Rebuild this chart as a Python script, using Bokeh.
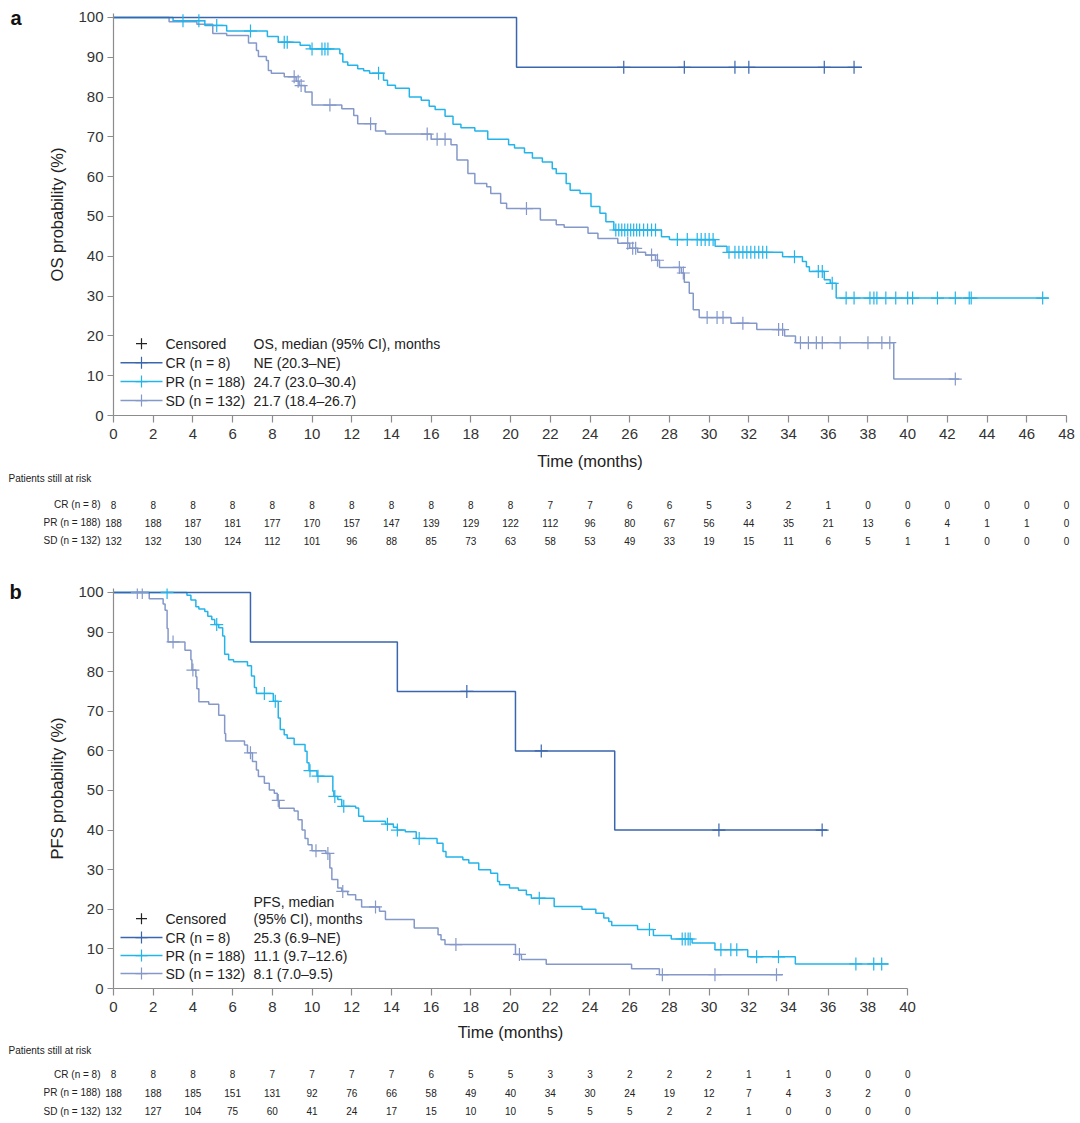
import numpy as np
from bokeh.plotting import figure
from bokeh.models import Range1d, FixedTicker
from bokeh.layouts import column, row
from bokeh.embed import file_html
from bokeh.resources import INLINE
from bokeh.core.properties import value

FONT = "Liberation Sans"
C_CR = "#3a66ad"
C_PR = "#22b4ea"
C_SD = "#8498c9"
TXT = "#222222"
AX = "#8c8c8c"

# ---------------- Panel a: overall survival ----------------
os_cr_t = [0, 20.3, 37.7]
os_cr_s = [100, 87.5, 87.5]
os_cr_cens = [25.7, 28.75, 31.3, 32.0, 35.8, 37.3]

os_pr_t = [0, 3.0, 4.6, 5.7, 7.75, 8.3, 9.4, 9.9, 11.4, 11.55, 11.8, 12.3, 12.6, 12.9,
           13.6, 13.8, 14.2, 14.9, 15.5, 15.9, 16.2, 16.7, 17.1, 17.5, 18.2, 18.85,
           19.9, 20.2, 20.7, 21.1, 21.6, 22.1, 22.3, 22.8, 23.0, 23.5, 24.05, 24.5,
           24.8, 25.2, 27.6, 28.0, 30.3, 30.9, 33.7, 34.7, 34.9, 35.05, 35.8, 36.1,
           36.4, 47.1]
os_pr_s = [100, 99.2, 98.0, 96.6, 95.2, 93.8, 93.0, 92.1, 90.9, 88.8, 88.0, 87.1, 86.6,
           86.0, 84.2, 83.0, 82.2, 80.0, 79.2, 77.7, 76.9, 75.2, 73.2, 72.3, 71.5, 69.4,
           68.0, 67.2, 66.0, 64.7, 63.7, 62.0, 60.8, 58.3, 56.6, 55.8, 52.5, 50.8, 48.7,
           46.6, 44.9, 44.2, 42.5, 41.0, 39.9, 38.7, 37.4, 36.2, 34.1, 33.2, 29.5, 29.5]
os_pr_cens = [3.5, 4.3, 5.2, 6.9, 8.6, 8.75, 10.0, 10.5, 10.65, 10.8, 13.35, 25.3, 25.45,
              25.6, 25.75, 25.9, 26.05, 26.2, 26.35, 26.5, 26.7, 26.9, 27.1, 27.3, 28.4,
              28.9, 29.4, 29.6, 29.8, 30.0, 30.2, 31.0, 31.3, 31.5, 31.7, 31.9, 32.1,
              32.3, 32.5, 32.7, 32.9, 34.3, 35.5, 35.7, 36.2, 36.9, 37.3, 38.1, 38.3,
              38.45, 38.9, 39.4, 40.0, 40.25, 41.5, 42.4, 43.1, 43.2, 46.8]

os_sd_t = [0, 2.8, 4.2, 5.0, 5.7, 6.8, 7.2, 7.3, 7.7, 7.8, 7.95, 8.6, 9.2, 9.35, 9.65,
           10.0, 11.5, 12.1, 12.3, 13.2, 13.7, 16.0, 17.0, 17.3, 17.85, 18.2, 18.8, 19.0,
           19.5, 19.8, 21.5, 22.3, 22.7, 23.9, 24.4, 25.4, 26.0, 26.4, 26.8, 27.3, 27.5,
           28.6, 28.75, 29.0, 29.2, 29.5, 31.1, 32.4, 33.8, 34.35, 39.3, 42.6]
os_sd_s = [100, 98.9, 98.3, 96.0, 95.5, 93.6, 91.7, 90.2, 89.2, 86.7, 86.0, 85.1, 84.0,
           82.9, 81.3, 78.0, 77.1, 75.4, 73.3, 71.5, 70.7, 69.4, 68.0, 64.2, 60.8, 58.3,
           57.5, 55.8, 53.3, 52.0, 49.1, 47.9, 47.3, 45.8, 44.5, 43.3, 42.0, 41.0, 40.3,
           39.0, 37.2, 35.8, 33.5, 30.7, 26.6, 24.6, 23.2, 21.6, 20.0, 18.3, 9.15, 9.15]
os_sd_cens = [9.1, 9.3, 9.45, 10.9, 12.95, 15.8, 16.3, 16.7, 20.8, 25.9, 26.15, 26.3,
              27.1, 27.4, 28.5, 28.7, 29.9, 30.4, 30.7, 31.7, 33.5, 33.7, 34.6, 35.0,
              35.4, 35.7, 36.6, 38.0, 38.7, 39.1, 42.4]

os_months = list(range(0, 49, 2))
os_risk_cr = [8, 8, 8, 8, 8, 8, 8, 8, 8, 8, 8, 7, 7, 6, 6, 5, 3, 2, 1, 0, 0, 0, 0, 0, 0]
os_risk_pr = [188, 188, 187, 181, 177, 170, 157, 147, 139, 129, 122, 112, 96, 80, 67, 56,
              44, 35, 21, 13, 6, 4, 1, 1, 0]
os_risk_sd = [132, 132, 130, 124, 112, 101, 96, 88, 85, 73, 63, 58, 53, 49, 33, 19, 15,
              11, 6, 5, 1, 1, 0, 0, 0]
os_legend_col2 = ["OS, median (95% CI), months", "NE (20.3–NE)", "24.7 (23.0–30.4)",
                  "21.7 (18.4–26.7)"]

# ---------------- Panel b: progression-free survival ----------------
pfs_cr_t = [0, 6.9, 14.3, 20.25, 25.25, 35.95]
pfs_cr_s = [100, 87.5, 75.0, 60.0, 40.0, 40.0]
pfs_cr_cens = [17.8, 21.55, 30.5, 35.7]

pfs_pr_t = [0, 3.7, 3.9, 4.15, 4.3, 4.6, 4.75, 4.95, 5.1, 5.3, 5.5, 5.6, 5.8, 6.05,
            6.75, 6.95, 7.1, 7.2, 8.05, 8.3, 8.4, 8.6, 8.75, 9.1, 9.65, 9.75, 9.85,
            10.25, 11.05, 11.1, 11.3, 11.5, 12.2, 12.35, 12.6, 13.7, 14.1, 14.3, 14.7,
            15.25, 16.3, 16.6, 16.75, 17.6, 17.9, 18.4, 19.0, 19.35, 19.45, 19.95, 20.4,
            20.8, 21.05, 22.2, 23.6, 24.3, 24.7, 24.95, 25.1, 26.4, 27.2, 28.1, 29.15,
            30.3, 31.95, 34.35, 39.05]
pfs_pr_s = [100, 99.3, 98.1, 96.4, 95.8, 95.2, 94.0, 93.2, 91.9, 91.1, 89.0, 84.4, 83.0,
            82.5, 81.5, 78.9, 76.0, 74.5, 72.5, 68.3, 65.4, 64.1, 63.2, 61.6, 59.9, 57.0,
            55.0, 53.6, 49.8, 48.5, 47.7, 46.0, 45.6, 43.5, 42.2, 41.5, 40.7, 40.0, 39.6,
            37.9, 36.7, 34.6, 33.2, 32.5, 31.7, 30.0, 29.1, 27.0, 26.2, 25.4, 24.8, 23.7,
            22.8, 20.7, 20.0, 19.0, 17.8, 16.9, 15.9, 14.9, 13.4, 12.5, 11.5, 9.8, 8.0,
            6.2, 6.2]
pfs_pr_cens = [2.7, 5.2, 7.6, 8.15, 9.9, 10.3, 11.15, 11.6, 13.8, 14.3, 15.4, 21.45, 27.0,
               28.65, 28.8, 28.95, 29.05, 30.6, 31.1, 31.4, 32.4, 33.5, 37.4, 38.3, 38.7]

pfs_sd_t = [0, 1.8, 2.5, 2.6, 2.7, 2.75, 3.6, 3.9, 3.95, 4.15, 4.2, 4.3, 4.8, 5.3, 5.6,
            5.65, 6.6, 6.75, 7.0, 7.2, 7.3, 7.6, 7.85, 8.1, 8.25, 8.35, 9.1, 9.3, 9.5,
            9.65, 9.8, 10.0, 10.7, 10.9, 11.0, 11.3, 11.5, 11.8, 12.2, 12.5, 13.4, 13.7,
            15.15, 16.35, 16.5, 16.7, 20.25, 20.55, 21.8, 26.1, 27.5, 33.7]
pfs_sd_s = [100, 98.4, 97.1, 95.5, 90.9, 87.5, 85.4, 83.0, 80.4, 78.7, 75.7, 72.4, 71.8,
            69.0, 64.4, 62.5, 61.5, 59.5, 57.3, 55.2, 53.5, 51.8, 50.1, 49.3, 47.5, 45.5,
            44.8, 42.6, 40.0, 37.9, 36.3, 34.8, 34.1, 30.4, 27.5, 25.4, 24.5, 23.7, 22.4,
            20.6, 19.5, 17.4, 15.3, 13.6, 12.3, 11.1, 8.6, 7.3, 6.1, 5.0, 3.5, 3.5]
pfs_sd_cens = [1.2, 1.45, 3.0, 4.0, 6.9, 8.3, 10.2, 10.8, 11.55, 13.2, 17.25, 20.45,
               27.65, 30.3, 33.4]

pfs_months = list(range(0, 41, 2))
pfs_risk_cr = [8, 8, 8, 8, 7, 7, 7, 7, 6, 5, 5, 3, 3, 2, 2, 2, 1, 1, 0, 0, 0]
pfs_risk_pr = [188, 188, 185, 151, 131, 92, 76, 66, 58, 49, 40, 34, 30, 24, 19, 12, 7, 4,
               3, 2, 0]
pfs_risk_sd = [132, 127, 104, 75, 60, 41, 24, 17, 15, 10, 10, 5, 5, 5, 2, 2, 1, 0, 0, 0, 0]
pfs_legend_col2 = ["25.3 (6.9–NE)", "11.1 (9.7–12.6)", "8.1 (7.0–9.5)"]

group_labels = ["CR (n = 8)", "PR (n = 188)", "SD (n = 132)"]
colors = [C_CR, C_PR, C_SD]

# ---------------- layout constants (pixels) ----------------
PAGE_W = 1080
LETTER_W = 30
MAIN_W = PAGE_W - LETTER_W
AXIS_X = 113                # page x of the y axis
PXM = 19.854                # pixels per month, both panels
LEG_FS = "14px"
TICK_FS = "15px"
ALAB_FS = "16.5px"
RISK_FS = "10px"


def no_align(p):
    if "frame_align" in type(p).properties():
        p.frame_align = False


def step_value(t, s, c):
    idx = np.searchsorted(np.asarray(t), np.asarray(c), side="right") - 1
    return list(np.asarray(s)[idx])


def make_main(xmax, height, top, bottom, ylabel, xlab_standoff):
    frame_w = round(xmax * PXM)
    left = AXIS_X - LETTER_W
    p = figure(width=MAIN_W, height=height, x_range=Range1d(0, xmax),
               y_range=Range1d(0, 101), output_backend="svg", toolbar_location=None,
               min_border_left=left, min_border_right=MAIN_W - left - frame_w,
               min_border_top=top, min_border_bottom=bottom)
    no_align(p)
    p.outline_line_color = None
    p.xgrid.visible = False
    p.ygrid.visible = False
    p.xaxis.ticker = FixedTicker(ticks=list(range(0, xmax + 1, 2)))
    p.yaxis.ticker = FixedTicker(ticks=list(range(0, 101, 10)))
    for ax in (p.xaxis[0], p.yaxis[0]):
        ax.axis_line_color = AX
        ax.axis_line_width = 1.2
        ax.major_tick_line_color = AX
        ax.major_tick_line_width = 1.2
        ax.minor_tick_line_color = None
        ax.major_tick_in = 0
        ax.major_label_text_font = FONT
        ax.major_label_text_font_size = TICK_FS
        ax.major_label_text_color = "#333333"
        ax.axis_label_text_font = FONT
        ax.axis_label_text_font_size = ALAB_FS
        ax.axis_label_text_font_style = "normal"
        ax.axis_label_text_color = "#222222"
    p.xaxis.major_tick_out = 7
    p.yaxis.major_tick_out = 6
    p.xaxis.major_label_standoff = 6
    p.yaxis.major_label_standoff = 4
    p.xaxis.axis_label = "Time (months)"
    p.yaxis.axis_label = ylabel
    p.xaxis.axis_label_standoff = xlab_standoff
    p.yaxis.axis_label_standoff = 9
    return p


def make_canvas(width, height, x_range):
    """A figure whose frame is the whole canvas; y counts pixels downward."""
    p = figure(width=width, height=height, x_range=x_range, y_range=Range1d(height, 0),
               output_backend="svg", toolbar_location=None, x_axis_type=None,
               y_axis_type=None, min_border=0)
    no_align(p)
    p.outline_line_color = None
    p.xgrid.visible = False
    p.ygrid.visible = False
    return p


def letter_fig(height, letter, x, y):
    p = make_canvas(LETTER_W, height, Range1d(0, LETTER_W))
    p.text(x=[x], y=[y], text=[letter], text_font=value(FONT), text_font_size=value("20px"),
           text_font_style="bold", text_color="#111111", text_baseline="alphabetic")
    return p


def draw_curves(p, curves):
    for (t, s, cens, col) in curves:
        p.step(x=t, y=s, mode="after", line_color=col, line_width=1.5)
    for (t, s, cens, col) in curves:
        p.scatter(x=cens, y=step_value(t, s, cens), marker="cross", size=13,
                  line_color=col, line_width=1.2)


def draw_legend(p, rows_y, col2_texts, col2_y):
    x = lambda px: (px - AXIS_X) / PXM
    p.scatter(x=[x(141)], y=[rows_y[0]], marker="cross", size=11, line_color="#222222",
              line_width=1.2)
    ys = rows_y[1:]
    p.segment(x0=[x(120)] * 3, y0=ys, x1=[x(162)] * 3, y1=ys, line_color=colors,
              line_width=1.5)
    p.scatter(x=[x(141)] * 3, y=ys, marker="cross", size=12, line_color=colors,
              line_width=1.2)
    p.text(x=[x(165)] * 4, y=rows_y, text=["Censored"] + group_labels,
           text_baseline="middle", text_font=value(FONT), text_font_size=value(LEG_FS),
           text_color=TXT)
    p.text(x=[x(253)] * len(col2_texts), y=col2_y, text=col2_texts, text_baseline="middle",
           text_font=value(FONT), text_font_size=value(LEG_FS), text_color=TXT)


def risk_fig(height, months, risks, y_title, ys):
    xr = Range1d(-AXIS_X / PXM, (PAGE_W - AXIS_X) / PXM)
    p = make_canvas(PAGE_W, height, xr)
    p.text(x=[(8 - AXIS_X) / PXM], y=[y_title], text=["Patients still at risk"],
           text_font=value(FONT), text_font_size=value(RISK_FS), text_color=TXT,
           text_baseline="middle", text_align="left")
    p.text(x=[(100 - AXIS_X) / PXM] * 3, y=ys, text=group_labels, text_font=value(FONT),
           text_font_size=value(RISK_FS), text_color=TXT, text_baseline="middle",
           text_align="right")
    for vals, y in zip(risks, ys):
        p.text(x=months, y=[y] * len(months), text=[str(v) for v in vals],
               text_font=value(FONT), text_font_size=value(RISK_FS), text_color=TXT,
               text_baseline="middle", text_align="center")
    return p


# ---------------- Panel a (page y 0 .. 570) ----------------
HA = 472                      # plot row height; frame: top 13 (y=101), 0 at 416
ppu_a = 3.99
pa = make_main(48, HA, 13, 56, "OS probability (%)", 10)
draw_curves(pa, [(os_sd_t, os_sd_s, os_sd_cens, C_SD),
                 (os_pr_t, os_pr_s, os_pr_cens, C_PR),
                 (os_cr_t, os_cr_s, os_cr_cens, C_CR)])
ya = lambda py: (416 - py) / ppu_a
leg_a = [ya(344), ya(363), ya(382), ya(401)]
draw_legend(pa, leg_a, os_legend_col2, leg_a)
la = letter_fig(HA, "a", 10, 17)
TA = 98                       # risk table a: page y 472 .. 570
ta = risk_fig(TA, os_months, [os_risk_cr, os_risk_pr, os_risk_sd], 478 - HA,
              [504 - HA, 522 - HA, 540 - HA])

# ---------------- Panel b (page y 570 .. 1123) ----------------
Y0B = HA + TA                 # 570
HB = 473                      # frame top 588 (y=101), 0 at 989
ppu_b = 3.97
pb = make_main(40, HB, 18, 54, "PFS probability (%)", 8)
draw_curves(pb, [(pfs_sd_t, pfs_sd_s, pfs_sd_cens, C_SD),
                 (pfs_pr_t, pfs_pr_s, pfs_pr_cens, C_PR),
                 (pfs_cr_t, pfs_cr_s, pfs_cr_cens, C_CR)])
yb = lambda py: (989 - py) / ppu_b
leg_b = [yb(919), yb(938), yb(956), yb(974)]
draw_legend(pb, leg_b, ["PFS, median", "(95% CI), months"] + pfs_legend_col2,
            [yb(902), yb(919), yb(938), yb(956), yb(974)])
lb = letter_fig(HB, "b", 9, 591 - Y0B)
Y0T = Y0B + HB                # 1043
TB = 1123 - Y0T               # 80
tb = risk_fig(TB, pfs_months, [pfs_risk_cr, pfs_risk_pr, pfs_risk_sd], 1050 - Y0T,
              [1073.5 - Y0T, 1092 - Y0T, 1110.5 - Y0T])

layout = column(row(la, pa, spacing=0), ta, row(lb, pb, spacing=0), tb, spacing=0)
open("out.html", "w").write(file_html(layout, INLINE))
